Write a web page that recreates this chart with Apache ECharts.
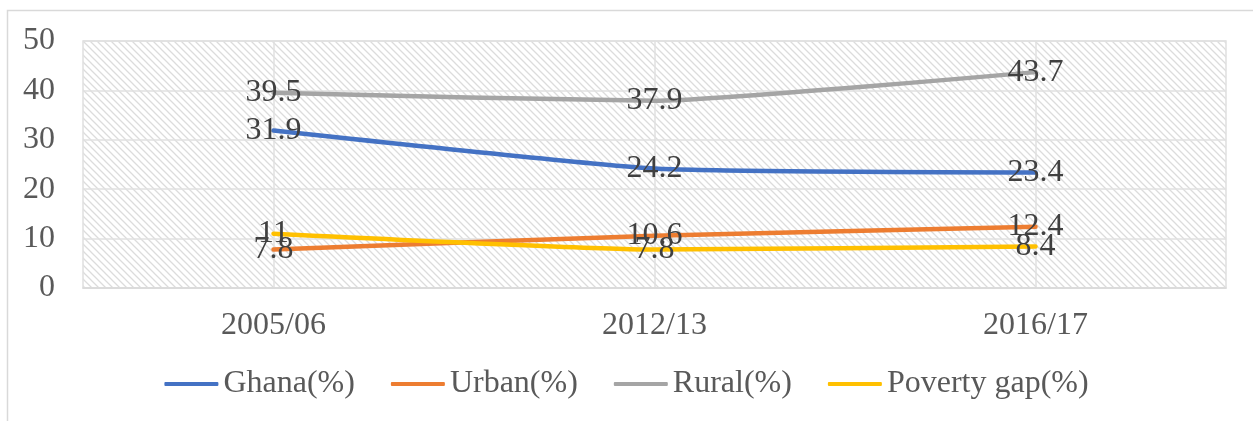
<!DOCTYPE html>
<html>
<head>
<meta charset="utf-8">
<style>
  html, body { margin: 0; padding: 0; background: #ffffff; }
  #chart { width: 1253px; height: 421px; }
</style>
<script src="https://cdn.jsdelivr.net/npm/echarts@6/dist/echarts.min.js"></script>
</head>
<body>
<div id="chart"></div>
<script>
// Survey rounds and poverty incidence figures
const categories = ['2005/06', '2012/13', '2016/17'];
const ghana = [31.9, 24.2, 23.4];
const urban = [7.8, 10.6, 12.4];
const rural = [39.5, 37.9, 43.7];
const povertyGap = [11, 7.8, 8.4];
const yTicks = { min: 0, max: 50, interval: 10 };

const FONT = '"Liberation Serif", "Times New Roman", serif';

// Diagonal hatch fill for the plotting area
function makeHatch() {
  const size = 7;
  const c = document.createElement('canvas');
  c.width = size; c.height = size;
  const ctx = c.getContext('2d');
  ctx.fillStyle = '#ffffff';
  ctx.fillRect(0, 0, size, size);
  ctx.strokeStyle = '#dcdcdc';
  ctx.lineWidth = 1.3;
  ctx.beginPath();
  ctx.moveTo(-2, -2); ctx.lineTo(size + 2, size + 2);
  ctx.moveTo(-2 - size, -2); ctx.lineTo(2, size + 2);
  ctx.moveTo(size - 2, -2); ctx.lineTo(2 * size + 2, size + 2);
  ctx.stroke();
  return c;
}

function lineSeries(name, data, color) {
  return {
    name: name,
    type: 'line',
    data: data,
    smooth: 0.15,
    symbol: 'circle',
    symbolSize: 0.1,
    showSymbol: true,
    lineStyle: { color: color, width: 4.5, cap: 'round' },
    itemStyle: { color: color },
    label: {
      show: true,
      position: 'inside',
      color: '#404040',
      fontFamily: FONT,
      fontSize: 32
    },
    emphasis: { disabled: true }
  };
}

const chart = echarts.init(document.getElementById('chart'), null, { renderer: 'canvas' });
chart.setOption({
  animation: false,
  backgroundColor: '#ffffff',
  graphic: [{
    type: 'rect',
    shape: { x: 7.5, y: 10.5, width: 1400, height: 600 },
    style: { fill: 'none', stroke: '#d9d9d9', lineWidth: 1.5 },
    silent: true,
    z: -10
  }],
  grid: {
    left: 83, right: 27, top: 41, bottom: 133,
    show: true,
    backgroundColor: { image: makeHatch(), repeat: 'repeat' },
    borderColor: '#e0e0e0',
    borderWidth: 1.5
  },
  legend: {
    bottom: 16,
    left: 'center',
    itemWidth: 54,
    itemHeight: 4,
    itemGap: 36,
    icon: 'roundRect',
    textStyle: { fontFamily: FONT, fontSize: 32, color: '#595959' },
    data: ['Ghana(%)', 'Urban(%)', 'Rural(%)', 'Poverty gap(%)']
  },
  xAxis: {
    type: 'category',
    data: categories,
    boundaryGap: true,
    axisLine: { show: true, lineStyle: { color: '#d9d9d9', width: 1.5 } },
    axisTick: { show: false },
    axisLabel: { fontFamily: FONT, fontSize: 32, color: '#595959', margin: 22 },
    splitLine: { show: true, alignWithLabel: true, lineStyle: { color: '#e0e0e0', width: 1.5 } }
  },
  yAxis: {
    type: 'value',
    min: yTicks.min,
    max: yTicks.max,
    interval: yTicks.interval,
    axisLine: { show: false },
    axisTick: { show: false },
    axisLabel: { fontFamily: FONT, fontSize: 32, color: '#595959', margin: 28 },
    splitLine: { show: true, lineStyle: { color: '#e0e0e0', width: 1.5 } }
  },
  series: [
    lineSeries('Ghana(%)', ghana, '#4472C4'),
    lineSeries('Urban(%)', urban, '#ED7D31'),
    lineSeries('Rural(%)', rural, '#A5A5A5'),
    lineSeries('Poverty gap(%)', povertyGap, '#FFC000')
  ]
});
</script>
</body>
</html>
